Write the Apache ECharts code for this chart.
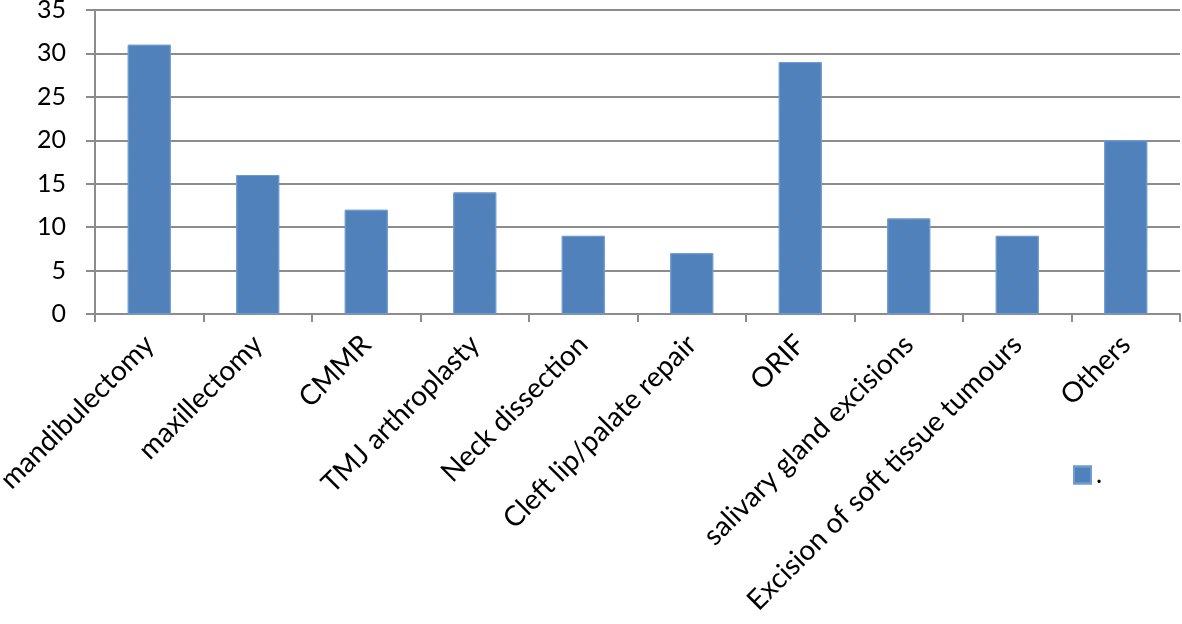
<!DOCTYPE html>
<html>
<head>
<meta charset="utf-8">
<script src="https://cdn.jsdelivr.net/npm/echarts@6/dist/echarts.min.js"></script>
<style>
  html, body { margin: 0; padding: 0; background: #fff; }
  #chart { width: 1182px; height: 624px; }
</style>
</head>
<body>
<div id="chart"></div>
<script>
// procedures
const categories = [
  "mandibulectomy", "maxillectomy", "CMMR", "TMJ arthroplasty", "Neck dissection",
  "Cleft lip/palate repair", "ORIF", "salivary gland excisions",
  "Excision of soft tissue tumours", "Others"
];
const counts = [31, 16, 12, 14, 9, 7, 29, 11, 9, 20];
const seriesName = ".";

const chart = echarts.init(document.getElementById("chart"));
const font = "Lato";

chart.setOption({
  animation: false,
  // decals only draw when aria decal is switched on
  aria: { enabled: true, decal: { show: true } },
  textStyle: { fontFamily: font },
  grid: {
    left: 95, right: 2, top: 10, bottom: 310,
    containLabel: false,
    outerBoundsMode: "none"
  },
  legend: {
    data: [seriesName],
    left: 1068,
    top: 457,
    itemWidth: 17,
    itemHeight: 17,
    icon: "rect",
    itemGap: 6,
    textStyle: { fontSize: 26, color: "#000", fontFamily: font }
  },
  xAxis: {
    type: "category",
    data: categories,
    axisLine: { lineStyle: { color: "#8c8c8c", width: 2 } },
    axisTick: { show: true, length: 8, lineStyle: { color: "#8c8c8c", width: 2 } },
    axisLabel: {
      rotate: 45,
      interval: 0,
      margin: 26,
      fontSize: 28,
      color: "#000",
      fontFamily: font
    }
  },
  yAxis: {
    type: "value",
    min: 0,
    max: 35,
    interval: 5,
    axisLine: { show: true, lineStyle: { color: "#8c8c8c", width: 2 } },
    axisTick: { show: true, length: 9, lineStyle: { color: "#8c8c8c", width: 2 } },
    splitLine: { lineStyle: { color: "#8c8c8c", width: 2 } },
    axisLabel: { margin: 29, fontSize: 25, color: "#000", fontFamily: font }
  },
  series: [
    {
      name: seriesName,
      type: "bar",
      data: counts,
      barWidth: 43,
      itemStyle: {
        color: "#4f81bd",
        borderColor: "#6f9bd0",
        borderWidth: 1,
        // faint dotted fill like the original
        decal: {
          symbol: "rect",
          symbolSize: 1,
          color: "rgba(160, 110, 60, 0.45)",
          dashArrayX: [[1, 4]],
          dashArrayY: [1, 4],
          rotation: 0.25
        }
      }
    }
  ]
});
</script>
</body>
</html>
